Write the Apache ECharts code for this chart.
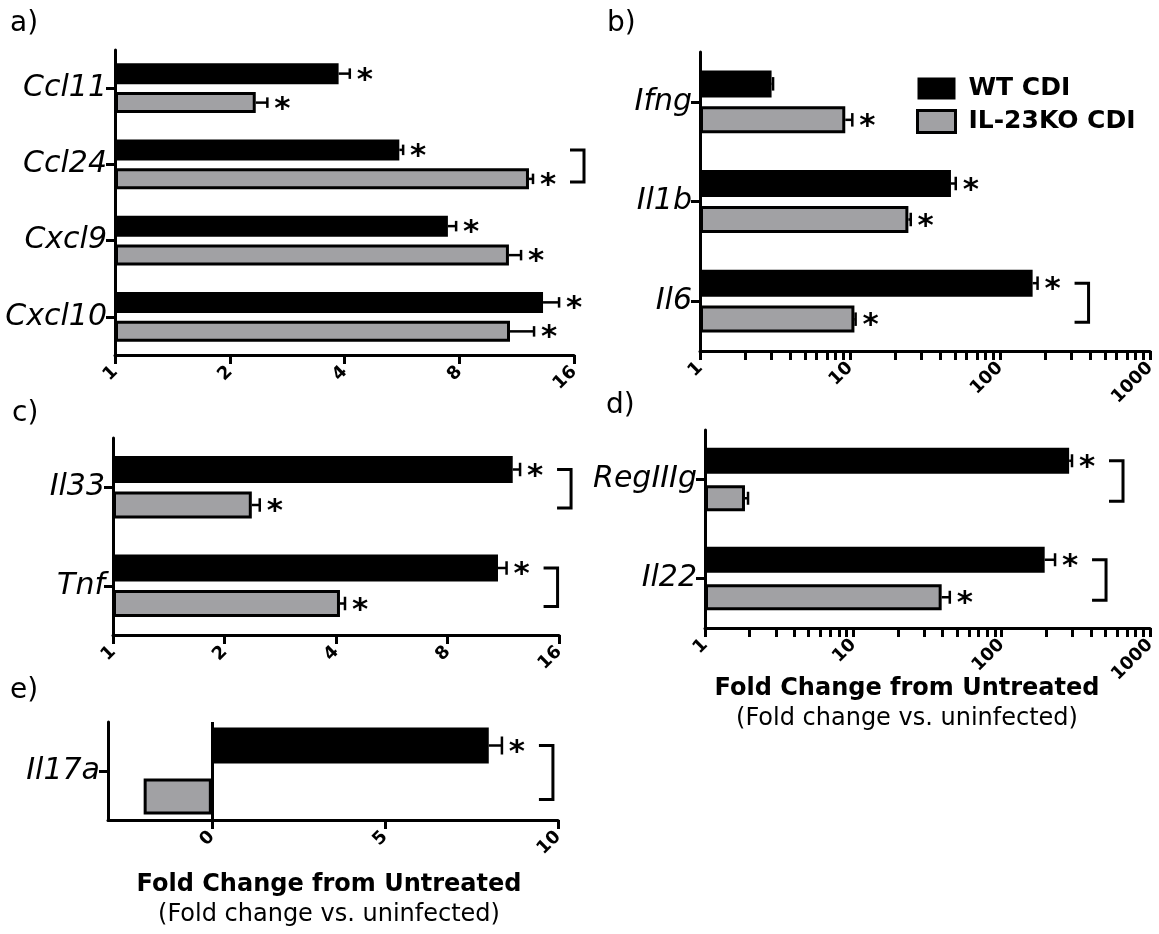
<!DOCTYPE html>
<html>
<head>
<meta charset="utf-8">
<script src="https://cdn.jsdelivr.net/npm/echarts@6/dist/echarts.min.js"></script>
<style>
  html, body { margin: 0; padding: 0; background: #fff; }
  #chart { width: 1159px; height: 934px; }
</style>
</head>
<body>
<div id="chart"></div>
<script>
// a) chemokines (fold change, log2 axis)
const aGenes = ['Ccl11', 'Ccl24', 'Cxcl9', 'Cxcl10'];
const aWT = [3.86, 5.57, 7.47, 13.27];
const aWTsem = [0.27, 0.13, 0.38, 1.35];
const aKO = [2.34, 12.19, 10.8, 10.87];
const aKOsem = [0.17, 0.30, 0.82, 1.70];
const aWTstar = [1, 1, 1, 1];
const aKOstar = [1, 1, 1, 1];
const aBracket = [0, 1, 0, 0];

// b) cytokines (log10 axis)
const bGenes = ['Ifng', 'Il1b', 'Il6'];
const bWT = [3.0, 47.1, 165];
const bWTsem = [0.07, 3.6, 13];
const bKO = [9.3, 24.5, 10.7];
const bKOsem = [1.06, 0.9, 0.2];
const bWTstar = [0, 1, 1];
const bKOstar = [1, 1, 1];
const bBracket = [0, 0, 1];

// c) log2 axis
const cGenes = ['Il33', 'Tnf'];
const cWT = [12.0, 10.95];
const cWTsem = [0.56, 0.6];
const cKO = [2.37, 4.1];
const cKOsem = [0.12, 0.13];
const cWTstar = [1, 1];
const cKOstar = [1, 1];
const cBracket = [1, 1];

// d) log10 axis
const dGenes = ['RegIIIg', 'Il22'];
const dWT = [285, 195];
const dWTsem = [13, 34];
const dKO = [1.86, 39.4];
const dKOsem = [0.09, 5.3];
const dWTstar = [1, 1];
const dKOstar = [0, 1];
const dBracket = [1, 1];

// e) linear axis
const eGenes = ['Il17a'];
const eWT = [8.0];
const eWTsem = [0.38];
const eKO = [-1.97];
const eKOsem = [0];
const eWTstar = [1];
const eKOstar = [0];
const eBracket = [1];

// tick labels
const log2Ticks = [1, 2, 4, 8, 16];
const log10Labels = [1, 10, 100, 1000];
const log10Ticks = [1, 2, 3, 4, 5, 6, 7, 8, 9, 10, 20, 30, 40, 50, 60, 70, 80, 90, 100, 200, 300, 400, 500, 600, 700, 800, 900, 1000];
const linTicks = [0, 5, 10];

const FONT = "'DejaVu Sans', Verdana, sans-serif";
const GREY = '#a1a1a4';

const panels = [
  { genes: aGenes, wt: aWT, wtSem: aWTsem, ko: aKO, koSem: aKOsem, wtStar: aWTstar, koStar: aKOstar, bracket: aBracket,
    box: { left: 115, top: 50, width: 459, height: 305 }, scale: 'log2', bw: 21, gap: '38%', offA: 14.5, offB: 14.5 },
  { genes: bGenes, wt: bWT, wtSem: bWTsem, ko: bKO, koSem: bKOsem, wtStar: bWTstar, koStar: bKOstar, bracket: bBracket,
    box: { left: 700, top: 52, width: 450, height: 299 }, scale: 'log10', bw: 27, gap: '33%', offA: 18, offB: 18 },
  { genes: cGenes, wt: cWT, wtSem: cWTsem, ko: cKO, koSem: cKOsem, wtStar: cWTstar, koStar: cKOstar, bracket: cBracket,
    box: { left: 113, top: 438, width: 446, height: 197 }, scale: 'log2', bw: 27, gap: '31%', offA: 17.75, offB: 17.75 },
  { genes: dGenes, wt: dWT, wtSem: dWTsem, ko: dKO, koSem: dKOsem, wtStar: dWTstar, koStar: dKOstar, bracket: dBracket,
    box: { left: 705, top: 430, width: 445, height: 198 }, scale: 'log10', bw: 26, gap: '44%', offA: 18.75, offB: 18.75 },
  { genes: eGenes, wt: eWT, wtSem: eWTsem, ko: eKO, koSem: eKOsem, wtStar: eWTstar, koStar: eKOstar, bracket: eBracket,
    box: { left: 108, top: 722, width: 450, height: 98 }, scale: 'lin', bw: 36, gap: '42%', offA: 25.5, offB: 25.5 }
];

function xAxisFor(p, i) {
  const ax = {
    gridIndex: i,
    axisLine: { show: true, onZero: false, lineStyle: { color: '#000', width: 3 } },
    axisTick: { show: true, length: 9, lineStyle: { color: '#000', width: 3 } },
    axisLabel: {
      rotate: 45, margin: 14, color: '#000', fontFamily: FONT, fontWeight: 'bold', fontSize: 18,
      formatter: v => String(Math.round(v))
    },
    splitLine: { show: false }
  };
  if (p.scale === 'log2') {
    Object.assign(ax, { type: 'log', logBase: 2, min: 1, max: 16 });
    ax.axisTick.customValues = log2Ticks;
    ax.axisLabel.customValues = log2Ticks;
  } else if (p.scale === 'log10') {
    Object.assign(ax, { type: 'log', logBase: 10, min: 1, max: 1000 });
    ax.axisTick.customValues = log10Ticks;
    ax.axisLabel.customValues = log10Labels;
  } else {
    Object.assign(ax, { type: 'value', min: -3, max: 10 });
    ax.axisTick.customValues = linTicks;
    ax.axisLabel.customValues = linTicks;
  }
  return ax;
}

function yAxisFor(p, i) {
  return {
    type: 'category', gridIndex: i, data: p.genes, inverse: true,
    axisLine: { show: true, onZero: false, lineStyle: { color: '#000', width: 3 } },
    axisTick: { show: true, alignWithLabel: true, length: 9, lineStyle: { color: '#000', width: 3 } },
    axisLabel: { color: '#000', fontFamily: FONT, fontStyle: 'italic', fontSize: 30, margin: 8 },
    splitLine: { show: false }
  };
}

// error bars + stars, drawn through the axes
function errSeries(p, i, vals, sems, stars, side) {
  const off = side < 0 ? -p.offA : p.offB;
  return {
    type: 'custom', xAxisIndex: i, yAxisIndex: i, clip: false, silent: true, z: 4,
    encode: { x: 0, y: 1 },
    data: vals.map((v, k) => [v, k, v + sems[k], stars[k]]),
    renderItem: (params, api) => {
      const c0 = api.coord([api.value(0), api.value(1)]);
      const c1 = api.coord([api.value(2), api.value(1)]);
      const y = c0[1] + off;
      const h = p.bw * 0.5;
      const kids = [];
      if (c1[0] > c0[0] + 0.5) {
        kids.push({ type: 'line', shape: { x1: c0[0], y1: y, x2: c1[0], y2: y }, style: { stroke: '#000', lineWidth: 2.5 } });
        kids.push({ type: 'line', shape: { x1: c1[0], y1: y - h / 2, x2: c1[0], y2: y + h / 2 }, style: { stroke: '#000', lineWidth: 2.5 } });
      }
      if (api.value(3)) {
        kids.push({ type: 'text', style: { text: '*', x: c1[0] + 15, y: y + 7, fill: '#000',
          font: 'bold 31px ' + FONT, align: 'center', verticalAlign: 'middle' } });
      }
      return { type: 'group', children: kids };
    }
  };
}

function bracketSeries(p, i) {
  const data = [];
  p.bracket.forEach((b, k) => {
    if (b) data.push([Math.max(p.wt[k] + p.wtSem[k], p.ko[k] + p.koSem[k]), k]);
  });
  return {
    type: 'custom', xAxisIndex: i, yAxisIndex: i, clip: false, silent: true, z: 4,
    encode: { x: 0, y: 1 },
    data: data,
    renderItem: (params, api) => {
      const c = api.coord([api.value(0), api.value(1)]);
      const x = c[0] + 37;
      const y1 = c[1] - p.offA;
      const y2 = c[1] + p.offB + 3;
      return {
        type: 'polyline',
        shape: { points: [[x, y1], [x + 14, y1], [x + 14, y2], [x, y2]] },
        style: { stroke: '#000', lineWidth: 3, fill: null }
      };
    }
  };
}

const series = [];
panels.forEach((p, i) => {
  const wt = {
    name: 'WT CDI', type: 'bar', xAxisIndex: i, yAxisIndex: i, data: p.wt,
    barWidth: p.bw, barGap: p.gap, itemStyle: { color: '#000' }, z: 2
  };
  if (p.scale === 'lin') {
    wt.markLine = {
      silent: true, symbol: ['none', 'none'], label: { show: false },
      lineStyle: { color: '#000', width: 3, type: 'solid' },
      data: [{ xAxis: 0 }]
    };
  }
  series.push(wt);
  series.push({
    name: 'IL-23KO CDI', type: 'bar', xAxisIndex: i, yAxisIndex: i, data: p.ko,
    barWidth: p.bw, barGap: p.gap, itemStyle: { color: GREY, borderColor: '#000', borderWidth: 3 }, z: 2
  });
  series.push(errSeries(p, i, p.wt, p.wtSem, p.wtStar, -1));
  series.push(errSeries(p, i, p.ko, p.koSem, p.koStar, 1));
  series.push(bracketSeries(p, i));
});

function label(text, x, y) {
  return { type: 'text', x: x, y: y, style: { text: text, fill: '#000', font: '28px ' + FONT } };
}
function title(x, y) {
  return [
    { type: 'text', x: x, y: y, style: { text: 'Fold Change from Untreated', fill: '#000',
      font: 'bold 24px ' + FONT, align: 'center', verticalAlign: 'middle' } },
    { type: 'text', x: x, y: y + 30, style: { text: '(Fold change vs. uninfected)', fill: '#000',
      font: '24px ' + FONT, align: 'center', verticalAlign: 'middle' } }
  ];
}

const chart = echarts.init(document.getElementById('chart'), null, { renderer: 'canvas' });
chart.setOption({
  animation: false,
  backgroundColor: '#fff',
  grid: panels.map(p => Object.assign({ outerBoundsMode: 'none', containLabel: false }, p.box)),
  xAxis: panels.map(xAxisFor),
  yAxis: panels.map(yAxisFor),
  legend: {
    data: [
      { name: 'WT CDI', itemStyle: { color: '#000', borderWidth: 0 } },
      { name: 'IL-23KO CDI', itemStyle: { color: GREY, borderColor: '#000', borderWidth: 3 } }
    ],
    orient: 'vertical', left: 916, top: 76, padding: 0, itemWidth: 38, itemHeight: 22, itemGap: 8,
    icon: 'rect', selectedMode: false,
    textStyle: { color: '#000', fontFamily: FONT, fontWeight: 'bold', fontSize: 25, padding: [0, 0, 0, 8] }
  },
  graphic: [
    label('a)', 10, 10),
    label('b)', 607, 10),
    label('c)', 12, 400),
    label('d)', 606, 392),
    label('e)', 10, 677)
  ].concat(title(907, 689), title(329, 885)),
  series: series
});
</script>
</body>
</html>
